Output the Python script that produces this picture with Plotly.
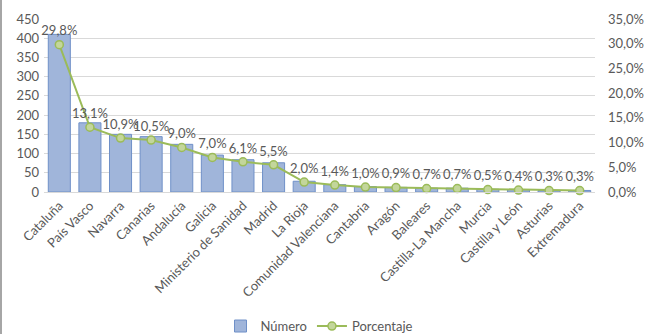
import plotly.graph_objects as go

categorias = ["Cataluña", "País Vasco", "Navarra", "Canarias", "Andalucía", "Galicia",
              "Ministerio de Sanidad", "Madrid", "La Rioja", "Comunidad Valenciana",
              "Cantabria", "Aragón", "Baleares", "Castilla-La Mancha", "Murcia",
              "Castilla y León", "Asturias", "Extremadura"]
numero = [410, 180, 150, 144, 124, 96, 84, 76, 28, 19, 14, 12, 10, 10, 7, 6, 4, 4]
porcentaje = [0.298, 0.131, 0.109, 0.105, 0.090, 0.070, 0.061, 0.055, 0.020, 0.014,
              0.010, 0.009, 0.007, 0.007, 0.005, 0.004, 0.003, 0.003]

FONT = "Lato"
GRAY = "#595959"

fig = go.Figure()
fig.add_trace(go.Bar(
    x=categorias, y=numero, name="Número",
    marker=dict(color="#a0b5da", line=dict(color="#6f90c8", width=1)),
    yaxis="y",
))
fig.add_trace(go.Scatter(
    x=categorias, y=porcentaje, name="Porcentaje", yaxis="y2",
    mode="lines+markers+text",
    line=dict(color="#9bbb59", width=2),
    marker=dict(size=8, color="#c3d69b", line=dict(color="#9bbb59", width=1.5)),
    texttemplate="%{y:.1%}", textposition="top center",
    textfont=dict(family=FONT, size=13, color=GRAY),
    cliponaxis=False,
))

fig.update_layout(
    width=645, height=334,
    margin=dict(l=44, r=50, t=19, b=142, autoexpand=False),
    paper_bgcolor="white", plot_bgcolor="white",
    separators=",.",
    font=dict(family=FONT, size=13, color=GRAY),
    bargap=0.28,
    showlegend=True,
    legend=dict(orientation="h", x=0.5, xanchor="center", y=-0.775, yanchor="middle",
                font=dict(family=FONT, size=13, color=GRAY), traceorder="normal"),
    xaxis=dict(tickangle=-45, showgrid=False, showline=True, linecolor="#d9d9d9",
               range=[-0.5, len(categorias) - 0.5],
               tickfont=dict(family=FONT, size=13, color=GRAY), ticks="", automargin=False),
    yaxis=dict(range=[0, 450], dtick=50, showgrid=True, gridcolor="#d9d9d9",
               zeroline=False, tickfont=dict(family=FONT, size=13, color=GRAY), ticks="",
               ticklabelstandoff=4, automargin=False),
    yaxis2=dict(range=[0, 0.35], dtick=0.05, tickformat=".1%", overlaying="y", side="right",
                showgrid=False, zeroline=False, automargin=False, ticklabelstandoff=12,
                tickfont=dict(family=FONT, size=13, color=GRAY), ticks=""),
    shapes=[dict(type="line", xref="paper", yref="paper", x0=-43/551, x1=-43/551,
                 y0=-142/173, y1=1+19/173, line=dict(color="#a6a6a6", width=2))],
)

fig.write_html("out.html")
